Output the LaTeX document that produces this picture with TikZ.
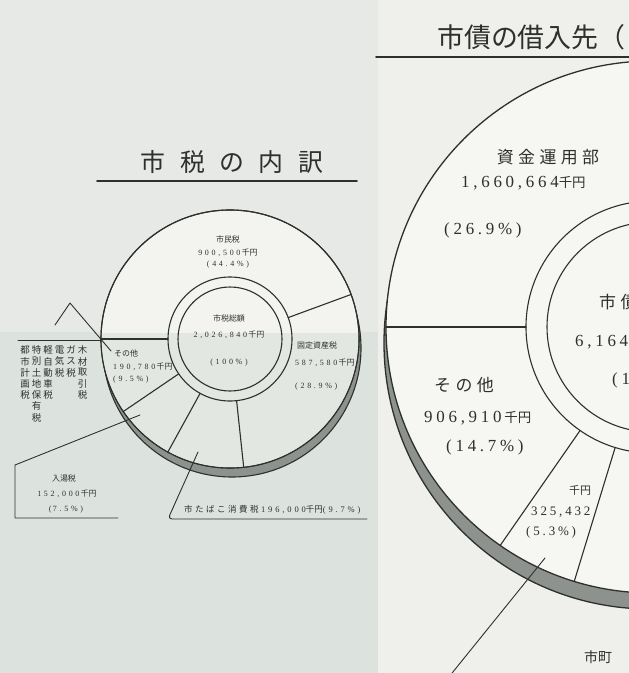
\documentclass[tikz,border=0pt]{standalone}
\usepackage{fontspec}
\setmainfont{Liberation Serif}
\newfontfamily\jp{Noto Sans CJK JP}
\newfontfamily\jpw[LetterSpace=58]{Noto Sans CJK JP}
\newfontfamily\jps[LetterSpace=26]{Noto Sans CJK JP}
\newfontfamily\jpt[LetterSpace=30]{Noto Sans CJK JP}
\newfontfamily\numf[LetterSpace=22]{Liberation Serif}
\newfontfamily\numfs[LetterSpace=34]{Liberation Serif}
\usetikzlibrary{calc}
\definecolor{ink}{HTML}{2E302E}
\definecolor{bgA}{HTML}{E6E9E5}
\definecolor{bgB}{HTML}{DCE2DD}
\definecolor{bgC}{HTML}{EFF0EC}
\definecolor{faceL}{HTML}{F3F4F0}
\definecolor{faceLb}{HTML}{E2E7E2}
\definecolor{faceR}{HTML}{F6F6F2}
\definecolor{bandc}{HTML}{8D928F}
\tikzset{
  ln/.style={draw=ink, line width=1.1bp},
  thin ln/.style={draw=ink, line width=0.9bp},
  sm/.style={font=\fontsize{8}{9}\selectfont, text=ink, inner sep=0pt},
  listch/.style={font=\jp\fontsize{9.5}{10}\selectfont, text=ink, inner sep=0pt},
  big/.style={font=\fontsize{17}{19}\selectfont, text=ink, inner sep=0pt},
  mid/.style={font=\fontsize{13}{15}\selectfont, text=ink, inner sep=0pt},
}
\begin{document}
\begin{tikzpicture}[x=1bp,y=-1bp,line cap=round,line join=round]
\useasboundingbox (0,0) rectangle (629,673);
\clip (0,0) rectangle (629,673);
% paper
\fill[bgA] (0,0) rectangle (629,673);
\fill[bgB] (0,332) rectangle (378,673);
\fill[bgC] (378,0) rectangle (629,673);

% ================= left chart =================
\node[font=\jpw\fontsize{25}{27}\selectfont, text=ink, inner sep=0pt] (ltitle) at (232,162) {市税の内訳};
\draw[ink, line width=1.6bp] (97,181) -- (357,181);

\coordinate (L) at (230,339);
\filldraw[fill=bandc, ln] ($(L)+(2,9)$) circle (129);
\filldraw[fill=faceL, ln] (L) circle (129);
\begin{scope}
  \clip (L) circle (128.4);
  \fill[faceLb] (0,333) rectangle (378,673);
\end{scope}
\draw[ln] (L) circle (129);
\draw[ln] (L) circle (62);
\draw[ln] (L) circle (52);
\foreach \a in {-20.2,-180,-214.2,-241.2,-276.1}
  \draw[ln] ($(L)+(\a:62)$) -- ($(L)+(\a:129)$);

\node[sm] (shimin)  at (228,239) {\jp 市民税};
\node[sm] (shiminv) at (228,253) {\numfs 900,500\,{\jp 千円}};
\node[sm] (shiminp) at (228,265) {\numfs (44.4\%)};
\node[sm] (total)   at (229,318) {\jp 市税総額};
\node[sm] (totalv)  at (229,335) {\numfs 2,026,840\,{\jp 千円}};
\node[sm] (totalp)  at (229,363) {\numfs (100\%)};
\node[sm,anchor=west] (kotei)  at (297,345) {\jp 固定資産税};
\node[sm,anchor=west] (koteiv) at (295,363) {\numfs 587,580\,{\jp 千円}};
\node[sm,anchor=west] (koteip) at (295,387) {\numfs (28.9\%)};
\node[sm,anchor=west] (sonota)  at (114,353) {\jp その他};
\node[sm,anchor=west] (sonotav) at (113,367) {\numfs 190,780\,{\jp 千円}};
\node[sm,anchor=west] (sonotap) at (113,380) {\numfs (9.5\%)};
\node[sm] (nyuto)  at (64,478) {\jp 入湯税};
\node[sm] (nyutov) at (67,494) {\numfs 152,000\,{\jp 千円}};
\node[sm] (nyutop) at (66,510) {\numfs (\,7.5\%)};
\node[sm,anchor=west,font=\fontsize{8.5}{10}\selectfont] (tabako) at (184,510) {{\jpt 市たばこ消費税}\;{\numfs 196,000}{\jp 千円}{\numfs (9.7\%)}};

% list of other taxes (vertical columns)
\draw[thin ln] (18,340) -- (101,340);
\foreach \c [count=\i] in {都,市,計,画,税} \node[listch] (ca\i) at (25,{339+\i*11.2}) {\c};
\foreach \c [count=\i] in {特,別,土,地,保,有,税} \node[listch] (cb\i) at (36.5,{339+\i*11.2}) {\c};
\foreach \c [count=\i] in {軽,自,動,車,税} \node[listch] (cc\i) at (48,{339+\i*11.2}) {\c};
\foreach \c [count=\i] in {電,気,税} \node[listch] (cd\i) at (59.5,{339+\i*11.2}) {\c};
\foreach \c [count=\i] in {ガ,ス,税} \node[listch] (ce\i) at (71,{339+\i*11.2}) {\c};
\foreach \c [count=\i] in {木,材,取,引,税} \node[listch] (cf\i) at (82.5,{339+\i*11.2}) {\c};

% leaders
\coordinate (b1) at (55,325); \coordinate (b2) at (70,303); \coordinate (b3) at (111,351);
\draw[thin ln] (b1) -- (b2) -- (b3);
\coordinate (n1) at (140,415); \coordinate (n2) at (15,465); \coordinate (n3) at (15,518); \coordinate (n4) at (118,518);
\draw[thin ln] (n1) -- (n2) -- (n3) -- (n4);
\coordinate (t1) at (198,452); \coordinate (t2) at (168,519); \coordinate (t3) at (367,519);
\draw[thin ln, rounded corners=4bp] (t1) -- (t2) -- (t3);

% ================= right chart =================
\node[font=\jp\fontsize{27}{29}\selectfont, text=ink, inner sep=0pt, anchor=west] (rtitle) at (437,37) {市債の借入先（};
\draw[ink, line width=1.8bp] (376,57) -- (629,57);

\coordinate (C) at (652,327);
\filldraw[fill=bandc, ln, line width=1.3bp] ($(C)+(-2,16)$) circle (266);
\filldraw[fill=faceR, ln, line width=1.3bp] (C) circle (266);
\draw[ln] (C) circle (126);
\draw[ln] (C) circle (105);
\foreach \a in {-180,-235.2,-253}
  \draw[ln] ($(C)+(\a:126)$) -- ($(C)+(\a:266)$);

\node[big, font=\jps\fontsize{17}{19}\selectfont] (shikin) at (548,157) {資金運用部};
\node[big, anchor=west] (shikinv) at (461,183) {{\numf 1,660,664}{\jp\fontsize{13.5}{15}\selectfont 千円}};
\node[big, anchor=west] (shikinp) at (444,230) {\numf (26.9\%)};
\node[big, font=\jps\fontsize{17}{19}\selectfont] (rsono) at (464,385) {その他};
\node[big, anchor=west] (rsonov) at (424,418) {{\numf 906,910\,}{\jp\fontsize{13.5}{15}\selectfont 千円}};
\node[big, anchor=west] (rsonop) at (446,447) {\numf (14.7\%)};
\node[sm, font=\jp\fontsize{11}{12}\selectfont] (kyen) at (580,490) {千円};
\node[mid, anchor=west] (ssmv) at (531,512) {\numf 325,432};
\node[mid, anchor=west] (ssmp) at (526,532) {\numf (5.3\%)};
\node[big, anchor=west, font=\jps\fontsize{17}{19}\selectfont] (rtot) at (599,302) {市債};
\node[big, anchor=west] (rtotv) at (575,342) {\numf 6,164};
\node[big, anchor=west] (rtotp) at (612,380) {\numf (1};
\coordinate (r1) at (545,558); \coordinate (r2) at (444,683);
\draw[thin ln] (r1) -- (r2);
\node[mid, anchor=west, font=\jp\fontsize{14}{16}\selectfont] (shicho) at (584,657) {市町};
\end{tikzpicture}
\end{document}
